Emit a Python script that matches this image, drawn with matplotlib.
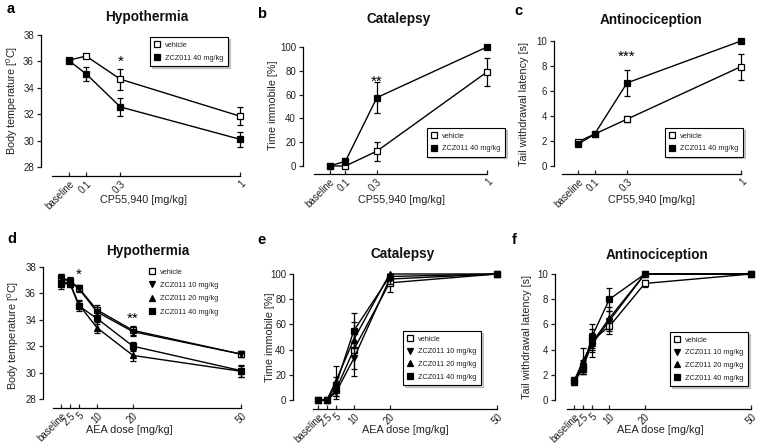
import matplotlib
matplotlib.use("Agg")
import matplotlib.pyplot as plt
from matplotlib.lines import Line2D
import numpy as np

plt.rcParams['font.family'] = ['Liberation Sans', 'DejaVu Sans']
plt.rcParams['mathtext.fontset'] = 'custom'
plt.rcParams['mathtext.rm'] = 'Liberation Sans'

W, H = 760, 447

# ---------------- data ----------------
cp_dose = [0, 0.1, 0.3, 1]
cp_labels = ['baseline', '0.1', '0.3', '1']

a_veh = [36.1, 36.4, 34.65, 31.85]
a_veh_err = [0.15, 0.15, 0.8, 0.68]
a_zcz = [36.05, 35.05, 32.55, 30.1]
a_zcz_err = [0.15, 0.5, 0.68, 0.58]

b_veh = [0, 0, 12.5, 79]
b_veh_err = [0, 0.5, 8, 12]
b_zcz = [0, 4, 57.5, 100]
b_zcz_err = [0, 3, 13, 0]

c_veh = [1.95, 2.55, 3.75, 7.95]
c_veh_err = [0.1, 0.1, 0.25, 1.05]
c_zcz = [1.75, 2.55, 6.65, 10]
c_zcz_err = [0.1, 0.1, 1.05, 0]

aea_dose = [0, 2.5, 5, 10, 20, 50]
aea_labels = ['baseline', '2.5', '5', '10', '20', '50']

d_veh = [37.2, 36.95, 36.4, 34.75, 33.2, 31.4]
d_veh_err = [0.3, 0.3, 0.25, 0.35, 0.35, 0.25]
d_z10 = [37.15, 36.9, 36.35, 34.6, 33.1, 31.4]
d_z10_err = [0.3, 0.3, 0.25, 0.35, 0.35, 0.25]
d_z20 = [36.85, 36.8, 35.15, 33.4, 31.3, 30.1]
d_z20_err = [0.3, 0.25, 0.35, 0.4, 0.4, 0.4]
d_z40 = [36.7, 36.75, 35.05, 34.1, 32.0, 30.15]
d_z40_err = [0.35, 0.3, 0.35, 0.4, 0.35, 0.45]

e_veh = [0, 0, 8, 40, 93, 100]
e_veh_err = [0, 0, 5, 15, 7, 0]
e_z10 = [0, 0, 6, 33, 96, 100]
e_z10_err = [0, 0, 5, 14, 4, 0]
e_z20 = [0, 0, 15, 48, 100, 100]
e_z20_err = [0, 0, 12, 14, 0, 0]
e_z40 = [0, 0, 12, 55, 98, 100]
e_z40_err = [0, 0, 6, 14, 2, 0]

f_veh = [1.6, 2.7, 4.7, 5.85, 9.25, 10]
f_veh_err = [0.2, 0.5, 0.6, 0.6, 0.3, 0]
f_z10 = [1.5, 2.6, 4.4, 6.3, 10, 10]
f_z10_err = [0.2, 0.5, 0.6, 0.8, 0, 0]
f_z20 = [1.5, 3.1, 4.5, 6.5, 10, 10]
f_z20_err = [0.2, 1.0, 1.1, 0.9, 0, 0]
f_z40 = [1.4, 2.5, 5.0, 8.0, 10, 10]
f_z40_err = [0.2, 0.4, 1.0, 0.9, 0, 0]

top_labels = ['vehicle', 'ZCZ011 40 mg/kg']
bot_labels = ['vehicle', 'ZCZ011 10 mg/kg', 'ZCZ011 20 mg/kg', 'ZCZ011 40 mg/kg']

fig = plt.figure(figsize=(W / 100, H / 100), dpi=100)


def fx(x):
    return x / W


def fy(y):
    return 1 - y / H


def px_axes(x0, x1, ytop, ybot):
    return fig.add_axes([x0 / W, (H - ybot) / H, (x1 - x0) / W, (ybot - ytop) / H])


def style(ax, xlim, ylim, yticks, xticks, xlabels, xlabel, ylabel,
          yout, xout, xlab_pos, ylab_pos):
    ax.set_xlim(*xlim)
    ax.set_ylim(*ylim)
    for s in ['top', 'right']:
        ax.spines[s].set_visible(False)
    ax.spines['left'].set_position(('outward', yout * 0.72))
    ax.spines['bottom'].set_position(('outward', xout * 0.72))
    for s in ['left', 'bottom']:
        ax.spines[s].set_linewidth(0.9)
    ax.set_yticks(yticks)
    ax.set_xticks(xticks)
    ax.set_xticklabels(xlabels, rotation=45, ha='right', va='top',
                       rotation_mode='anchor')
    ax.tick_params(axis='x', direction='in', length=3, width=0.9,
                   labelsize=7, colors='#222222', pad=2)
    ax.tick_params(axis='y', direction='out', length=3, width=0.9,
                   labelsize=7, colors='#222222', pad=2)
    ax.set_xlabel(xlabel, fontsize=7.8, color='#222222')
    ax.set_ylabel(ylabel, fontsize=7.8, color='#222222')
    ax.xaxis.set_label_coords(fx(xlab_pos[0]), fy(xlab_pos[1]),
                              transform=fig.transFigure)
    ax.xaxis.label.set_va('center')
    ax.yaxis.set_label_coords(fx(ylab_pos[0]), fy(ylab_pos[1]),
                              transform=fig.transFigure)
    ax.yaxis.label.set_va('center')
    ax.patch.set_alpha(0)


def series(ax, x, y, e, marker, mfc, z):
    ax.errorbar(x, y, yerr=e, color='black', lw=1, marker=marker, ms=5,
                mfc=mfc, mec='black', mew=0.9, capsize=2.5, elinewidth=0.9,
                capthick=0.9, zorder=z, clip_on=False)


def legend(x, y, labels, markers, fills, frame=True, spacing=0.75):
    handles = [Line2D([], [], ls='none', marker=m, ms=5, mfc=f, mec='black',
                      mew=0.9) for m, f in zip(markers, fills)]
    kw = {}
    if frame:
        kw['shadow'] = {'color': '0.6', 'ox': 1.2, 'oy': -1.2}
    leg = fig.legend(handles, labels, loc='upper left',
                     bbox_to_anchor=(fx(x), fy(y)), frameon=frame,
                     fancybox=False, fontsize=5.3, handlelength=0.8,
                     handletextpad=0.7, borderpad=0.6, labelspacing=spacing,
                     borderaxespad=0, **kw)
    for t in leg.get_texts():
        t.set_color('#222222')
    if frame:
        leg.get_frame().set_edgecolor('black')
        leg.get_frame().set_linewidth(0.8)
    return leg


def panel_letter(x, y, s):
    fig.text(fx(x), fy(y), s, fontsize=10.5, fontweight='bold',
             ha='left', va='center')


def title(x, y, s):
    fig.text(fx(x), fy(y), s, fontsize=9.8, fontweight='bold',
             ha='center', va='center', color='#111111')


ylab_temp = 'Body temperature [$^{\\mathregular{0}}$C]'

# ---------------- panel a ----------------
ax = px_axes(52, 240, 35, 167)
series(ax, cp_dose, a_veh, a_veh_err, 's', 'white', 3)
series(ax, cp_dose, a_zcz, a_zcz_err, 's', 'black', 4)
style(ax, (-0.1, 1.0), (28, 38), [28, 30, 32, 34, 36, 38], cp_dose, cp_labels,
      'CP55,940 [mg/kg]', ylab_temp, 11, 9, (144, 200), (12, 100))
ax.text(0.3, 35.45, '*', ha='center', va='bottom', fontsize=11)
legend(150, 37, top_labels, ['s', 's'], ['white', 'black'], spacing=0.85)
panel_letter(7, 9, 'a')
title(147, 17, 'Hypothermia')

# ---------------- panel b ----------------
ax = px_axes(314, 487, 47, 166)
series(ax, cp_dose, b_veh, b_veh_err, 's', 'white', 3)
series(ax, cp_dose, b_zcz, b_zcz_err, 's', 'black', 4)
style(ax, (-0.1, 1.0), (0, 100), [0, 20, 40, 60, 80, 100], cp_dose, cp_labels,
      'CP55,940 [mg/kg]', 'Time immobile [%]', 11, 8, (401, 200), (273, 105))
ax.text(0.3, 65, '**', ha='center', va='bottom', fontsize=11)
legend(427, 128, top_labels, ['s', 's'], ['white', 'black'], spacing=0.75)
panel_letter(257, 14, 'b')
title(399, 19, 'Catalepsy')

# ---------------- panel c ----------------
ax = px_axes(562, 741, 41, 166)
series(ax, cp_dose, c_veh, c_veh_err, 's', 'white', 3)
series(ax, cp_dose, c_zcz, c_zcz_err, 's', 'black', 4)
style(ax, (-0.1, 1.0), (0, 10), [0, 2, 4, 6, 8, 10], cp_dose, cp_labels,
      'CP55,940 [mg/kg]', 'Tail withdrawal latency [s]', 8, 8, (651, 200), (524, 104))
ax.text(0.3, 8.2, '***', ha='center', va='bottom', fontsize=11)
legend(665, 128, top_labels, ['s', 's'], ['white', 'black'], spacing=0.75)
panel_letter(514, 11, 'c')
title(651, 20, 'Antinociception')

# ---------------- panel d ----------------
bot_markers = ['s', 'v', '^', 's']
bot_fills = ['white', 'black', 'black', 'black']
ax = px_axes(53, 241, 267, 399)
series(ax, aea_dose, d_veh, d_veh_err, 's', 'white', 3)
series(ax, aea_dose, d_z10, d_z10_err, 'v', 'black', 4)
series(ax, aea_dose, d_z20, d_z20_err, '^', 'black', 5)
series(ax, aea_dose, d_z40, d_z40_err, 's', 'black', 6)
style(ax, (-2.2, 50), (28, 38), [28, 30, 32, 34, 36, 38], aea_dose, aea_labels,
      'AEA dose [mg/kg]', ylab_temp, 10, 9, (129, 430), (13, 335))
ax.text(5, 36.85, '*', ha='center', va='bottom', fontsize=11)
ax.text(20, 33.55, '**', ha='center', va='bottom', fontsize=11)
legend(145, 264, bot_labels, bot_markers, bot_fills, frame=False, spacing=0.85)
panel_letter(7, 239, 'd')
title(148, 251, 'Hypothermia')

# ---------------- panel e ----------------
ax = px_axes(313, 497, 274, 400)
series(ax, aea_dose, e_veh, e_veh_err, 's', 'white', 3)
series(ax, aea_dose, e_z10, e_z10_err, 'v', 'black', 4)
series(ax, aea_dose, e_z20, e_z20_err, '^', 'black', 5)
series(ax, aea_dose, e_z40, e_z40_err, 's', 'black', 6)
style(ax, (-1.4, 50), (0, 100), [0, 20, 40, 60, 80, 100], aea_dose, aea_labels,
      'AEA dose [mg/kg]', 'Time immobile [%]', 20, 9, (405, 430), (270, 337))
legend(403, 331, bot_labels, bot_markers, bot_fills, spacing=0.75)
panel_letter(257, 240, 'e')
title(403, 254, 'Catalepsy')

# ---------------- panel f ----------------
ax = px_axes(567, 751, 274, 400)
series(ax, aea_dose, f_veh, f_veh_err, 's', 'white', 3)
series(ax, aea_dose, f_z10, f_z10_err, 'v', 'black', 4)
series(ax, aea_dose, f_z20, f_z20_err, '^', 'black', 5)
series(ax, aea_dose, f_z40, f_z40_err, 's', 'black', 6)
style(ax, (-2, 50), (0, 10), [0, 2, 4, 6, 8, 10], aea_dose, aea_labels,
      'AEA dose [mg/kg]', 'Tail withdrawal latency [s]', 12, 9, (660, 430), (527, 337))
legend(670, 332, bot_labels, bot_markers, bot_fills, spacing=0.75)
panel_letter(512, 240, 'f')
title(657, 255, 'Antinociception')

fig.savefig('out.png', dpi=100)
